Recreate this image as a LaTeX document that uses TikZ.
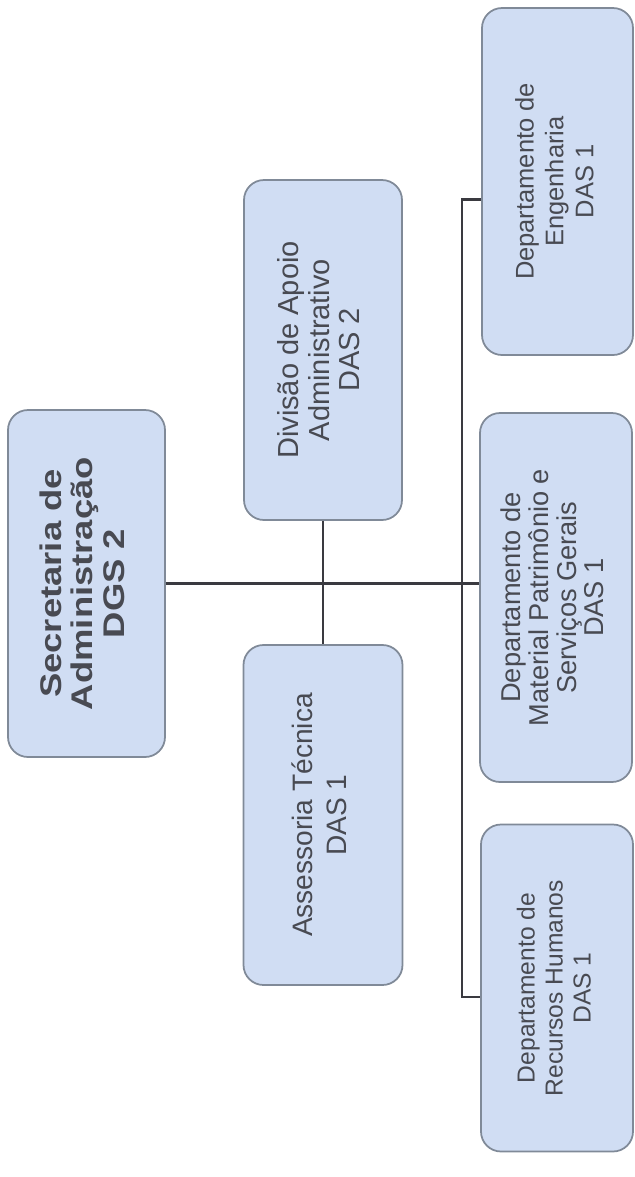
\documentclass[tikz,border=0pt]{standalone}
\usepackage{fontspec}
\setmainfont{Liberation Sans}
\usepackage{graphicx}
\usetikzlibrary{positioning}
\definecolor{boxfill}{RGB}{208,221,243}
\definecolor{boxline}{RGB}{128,138,152}
\definecolor{txt}{RGB}{72,74,82}
\definecolor{wire}{RGB}{58,58,64}
\newcommand{\uptext}[1]{\rotatebox{90}{\begin{tabular}{@{}c@{}}#1\end{tabular}}}

\begin{document}
\begin{tikzpicture}[
  box/.style = {draw=boxline, line width=1pt, fill=boxfill, rounded corners=0.4cm,
                inner sep=0pt, text=txt},
  wire/.style = {draw=wire, line width=1.5pt}]
\useasboundingbox (0,0) rectangle (12.7,-23.54);
% boxes
\node[box, minimum width=3.14cm, minimum height=6.94cm] (s) at (1.73,-11.67)
  {\fontsize{17}{18}\selectfont\bfseries\rotatebox{90}{\scalebox{1.22}[1]{\begin{tabular}{@{}c@{}}Secretaria de\\Administração\\DGS 2\end{tabular}}}};
\node[box, minimum width=3.16cm, minimum height=6.8cm, font=\fontsize{16.5}{17.5}\selectfont] (d) at (6.46,-7.0)
  {\uptext{Divisão de Apoio\\Administrativo\\DAS 2}};
\node[box, minimum width=3.18cm, minimum height=6.8cm, font=\fontsize{16}{19.5}\selectfont] (t) at (6.46,-16.3)
  {\uptext{Assessoria Técnica\\DAS 1}};
\node[box, minimum width=3.02cm, minimum height=6.94cm, font=\fontsize{14.5}{17}\selectfont] (e) at (11.15,-3.63)
  {\uptext{Departamento de\\Engenharia\\DAS 1}};
\node[box, minimum width=3.04cm, minimum height=7.38cm, font=\fontsize{15.5}{15}\selectfont] (m) at (11.12,-11.95)
  {\uptext{Departamento de\\Material Patrimônio e\\Serviços Gerais\\DAS 1}};
\node[box, minimum width=3.04cm, minimum height=6.54cm, font=\fontsize{14}{16}\selectfont] (r) at (11.14,-19.76)
  {\uptext{Departamento de\\Recursos Humanos\\DAS 1}};
% lines
\draw[wire] (s.east) -- (s.east -| m.west);
\draw[wire] (d.south) -- (t.north);
\draw[wire] ([yshift=-0.36cm]e.west) -- ++(-0.38,0) |- ([yshift=-0.18cm]r.west);
\end{tikzpicture}
\end{document}
